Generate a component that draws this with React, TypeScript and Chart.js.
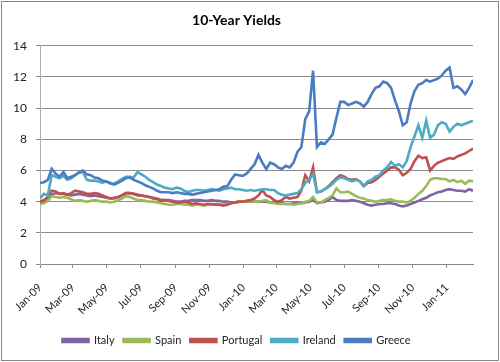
import React, { useEffect, useRef } from "react";
import { Chart, registerables } from "chart.js";

Chart.register(...registerables);

// Weekly observations starting the first week of Jan 2009 (x = days since Jan 1, 2009)
const italy = [
  4.0, 4.1, 4.25, 4.45, 4.55, 4.5, 4.5, 4.45, 4.4, 4.45,
  4.5, 4.45, 4.4, 4.35, 4.4, 4.35, 4.3, 4.25, 4.2, 4.25,
  4.3, 4.4, 4.55, 4.55, 4.5, 4.45, 4.4, 4.35, 4.3, 4.25,
  4.2, 4.1, 4.1, 4.1, 4.05, 4.0, 4.0, 4.05, 4.05, 4.1,
  4.1, 4.1, 4.05, 4.05, 4.1, 4.05, 4.05, 4.0, 4.0, 3.95,
  3.95, 4.0, 4.0, 4.05, 4.0, 4.0, 4.0, 4.0, 4.0, 3.95,
  3.95, 3.9, 3.9, 3.85, 3.85, 3.9, 3.9, 3.9, 3.95, 4.0,
  4.1, 3.9, 3.95, 4.0, 4.1, 4.3, 4.1, 4.05, 4.05, 4.05,
  4.1, 4.05, 4.0, 3.9, 3.8, 3.75, 3.8, 3.85, 3.85, 3.9,
  3.9, 3.85, 3.75, 3.7, 3.75, 3.85, 3.95, 4.05, 4.15, 4.25,
  4.4, 4.5, 4.6, 4.65, 4.75, 4.8, 4.75, 4.7, 4.7, 4.65,
  4.8, 4.7,
];

const spain = [
  3.85, 3.9, 4.05, 4.35, 4.3, 4.25, 4.3, 4.25, 4.15, 4.05,
  4.1, 4.05, 4.0, 4.05, 4.1, 4.05, 4.0, 4.0, 3.95, 4.0,
  4.1, 4.2, 4.35, 4.3, 4.2, 4.1, 4.1, 4.05, 4.0, 4.0,
  3.95, 3.9, 3.85, 3.8, 3.8, 3.85, 3.85, 3.8, 3.8, 3.75,
  3.8, 3.8, 3.75, 3.8, 3.8, 3.85, 3.85, 3.8, 3.85, 3.9,
  3.95, 4.0, 4.0, 4.0, 4.05, 4.0, 4.0, 4.05, 4.1, 3.95,
  3.9, 3.85, 3.85, 3.85, 3.85, 3.8, 3.85, 3.9, 4.0, 4.05,
  4.3, 3.95, 3.95, 4.1, 4.25, 4.4, 4.85, 4.6, 4.6, 4.65,
  4.5, 4.35, 4.25, 4.2, 4.1, 4.05, 4.0, 4.05, 4.1, 4.1,
  4.15, 4.05, 4.0, 4.0, 3.95, 4.05, 4.25, 4.5, 4.7, 5.0,
  5.4, 5.5, 5.5, 5.45, 5.45, 5.3, 5.4, 5.25, 5.35, 5.15,
  5.35, 5.3,
];

const portugal = [
  4.0, 4.05, 4.3, 4.7, 4.65, 4.5, 4.55, 4.45, 4.55, 4.7,
  4.65, 4.6, 4.5, 4.5, 4.55, 4.5, 4.4, 4.3, 4.2, 4.2,
  4.3, 4.4, 4.55, 4.55, 4.5, 4.4, 4.4, 4.35, 4.3, 4.2,
  4.15, 4.1, 4.1, 4.05, 4.0, 3.95, 3.95, 4.0, 3.95, 3.85,
  3.9, 3.85, 3.8, 3.85, 3.85, 3.8, 3.8, 3.75, 3.8, 3.9,
  3.95, 4.0, 4.0, 4.05, 4.1, 4.2, 4.4, 4.75, 4.4, 4.3,
  4.1, 4.0, 4.1, 4.3, 4.2, 4.25, 4.3, 4.7, 5.7, 5.3,
  6.2, 4.6, 4.65, 4.8, 5.0, 5.25, 5.5, 5.7, 5.6, 5.45,
  5.4, 5.45, 5.3, 5.0, 5.2, 5.25, 5.4, 5.6, 5.8, 6.0,
  6.2, 6.2, 6.05, 5.7, 5.85, 6.1, 6.6, 6.95, 6.8, 6.85,
  6.0, 6.3, 6.5, 6.6, 6.7, 6.8, 6.75, 6.9, 7.0, 7.1,
  7.25, 7.4,
];

const ireland = [
  4.2, 4.5, 4.4, 5.7, 5.6, 5.5, 5.65, 5.4, 5.5, 5.7,
  5.85, 5.9, 5.4, 5.35, 5.35, 5.3, 5.2, 5.3, 5.15, 5.15,
  5.3, 5.45, 5.6, 5.6, 5.55, 5.9, 5.75, 5.6, 5.4, 5.25,
  5.1, 5.0, 4.9, 4.85, 4.8, 4.9, 4.85, 4.7, 4.6, 4.7,
  4.75, 4.75, 4.7, 4.75, 4.8, 4.75, 4.7, 4.8, 4.85, 4.9,
  4.8, 4.8, 4.75, 4.7, 4.75, 4.7, 4.75, 4.8, 4.8, 4.75,
  4.75, 4.55, 4.45, 4.4, 4.45, 4.5, 4.55, 4.8, 5.2, 5.4,
  5.8, 4.6, 4.65, 4.8, 4.95, 5.15, 5.4, 5.55, 5.5, 5.4,
  5.3, 5.4, 5.3, 5.0, 5.3, 5.4, 5.6, 5.7, 6.0, 6.2,
  6.55, 6.3, 6.4, 6.2, 6.6, 7.5, 8.2, 8.9, 8.1, 9.2,
  8.1, 8.3, 8.9, 9.1, 9.0, 8.5, 8.8, 9.0, 8.9, 9.0,
  9.1, 9.2,
];

const greece = [
  5.2, 5.25, 5.4, 6.1, 5.8, 5.6, 5.9, 5.5, 5.6, 5.7,
  5.9, 6.0, 5.75, 5.7, 5.55, 5.5, 5.35, 5.3, 5.2, 5.1,
  5.2, 5.35, 5.5, 5.55, 5.4, 5.3, 5.2, 5.05, 4.95, 4.85,
  4.7, 4.6, 4.6, 4.6, 4.55, 4.6, 4.55, 4.5, 4.5, 4.45,
  4.5, 4.55, 4.6, 4.65, 4.7, 4.75, 4.8, 4.95, 5.0, 5.4,
  5.75, 5.7, 5.65, 5.8, 6.1, 6.4, 7.0, 6.5, 6.1, 6.5,
  6.4, 6.2, 6.1, 6.3, 6.2, 6.5, 7.2, 7.5, 9.3, 9.8,
  12.4, 7.5, 7.8, 7.7, 8.0, 8.3, 9.4, 10.4, 10.4, 10.2,
  10.3, 10.4, 10.3, 10.1, 10.4, 10.9, 11.3, 11.4, 11.7, 11.6,
  11.3, 10.5, 9.8, 8.9, 9.1, 10.3, 11.1, 11.5, 11.6, 11.8,
  11.7, 11.8, 11.9, 12.1, 12.4, 12.6, 11.3, 11.4, 11.2, 10.9,
  11.3, 11.8,
];

const seriesNames = ["Italy", "Spain", "Portugal", "Ireland", "Greece"];
const seriesColors = ["#8064A2", "#9BBB59", "#C0504D", "#4BACC6", "#4A7CC0"];

// x-axis tick labels and their day offsets from Jan 1, 2009
const tickLabels = [
  "Jan-09", "Mar-09", "May-09", "Jul-09", "Sep-09", "Nov-09",
  "Jan-10", "Mar-10", "May-10", "Jul-10", "Sep-10", "Nov-10", "Jan-11",
];
const tickDays = [0, 59, 120, 181, 243, 304, 365, 424, 485, 546, 608, 669, 730];

const FONT = "Lato, 'Open Sans', 'DejaVu Sans', sans-serif";

export default function App() {
  const ref = useRef<HTMLCanvasElement | null>(null);

  useEffect(() => {
    document.body.style.margin = "0";
    const canvas = ref.current;
    if (!canvas) return;
    const all = [italy, spain, portugal, ireland, greece];
    const datasets = all.map((vals, si) => ({
      label: seriesNames[si],
      data: vals.map((v, i) => ({ x: i * 7, y: v })),
      borderColor: seriesColors[si],
      backgroundColor: seriesColors[si],
      borderWidth: 2.6,
      pointRadius: 0,
      tension: 0,
      order: all.length - si,
    }));

    const frame = {
      id: "frame",
      beforeDraw(chart: any) {
        const c = chart.ctx;
        c.save();
        c.fillStyle = "#ffffff";
        c.fillRect(0, 0, chart.width, chart.height);
        c.strokeStyle = "#888888";
        c.lineWidth = 1;
        c.strokeRect(1.5, 1.5, chart.width - 3, chart.height - 3);
        c.restore();
      },
    };

    const chart = new Chart(canvas, {
      type: "line",
      data: { datasets },
      plugins: [frame],
      options: {
        responsive: false,
        animation: false,
        layout: { padding: { left: 0, right: 27, top: 0, bottom: 6 } },
        plugins: {
          tooltip: { enabled: false },
          title: {
            display: true,
            text: "10-Year Yields",
            color: "#000000",
            font: { family: FONT, size: 14, weight: "bold" },
            padding: { top: 12, bottom: 17 },
          },
          legend: {
            position: "bottom",
            labels: {
              boxWidth: 26,
              boxHeight: 3,
              color: "#222222",
              font: { family: FONT, size: 11 },
              padding: 9,
              sort: (a: any, b: any) => a.datasetIndex - b.datasetIndex,
            },
          },
        },
        scales: {
          x: {
            type: "linear",
            min: 0,
            max: 777,
            afterBuildTicks: (scale: any) => {
              scale.ticks = tickDays.map((d) => ({ value: d }));
            },
            afterFit: (scale: any) => {
              scale.height = 62;
            },
            ticks: {
              autoSkip: false,
              minRotation: 45,
              maxRotation: 45,
              padding: 13,
              color: "#222222",
              font: { family: FONT, size: 11 },
              callback: (_v: any, i: number) => tickLabels[i],
            },
            grid: {
              drawOnChartArea: false,
              drawTicks: true,
              tickLength: 4,
              color: "#888888",
            },
            border: { color: "#888888" },
          },
          y: {
            min: 0,
            max: 14,
            afterFit: (scale: any) => {
              scale.width = 40;
            },
            ticks: {
              stepSize: 2,
              padding: 9,
              color: "#222222",
              font: { family: FONT, size: 12 },
            },
            grid: {
              color: "#8c8c8c",
              tickLength: 4,
            },
            border: { color: "#b0b0b0" },
          },
        },
      },
    });
    return () => chart.destroy();
  }, []);

  return <canvas ref={ref} width={500} height={362} style={{ display: "block" }} />;
}
